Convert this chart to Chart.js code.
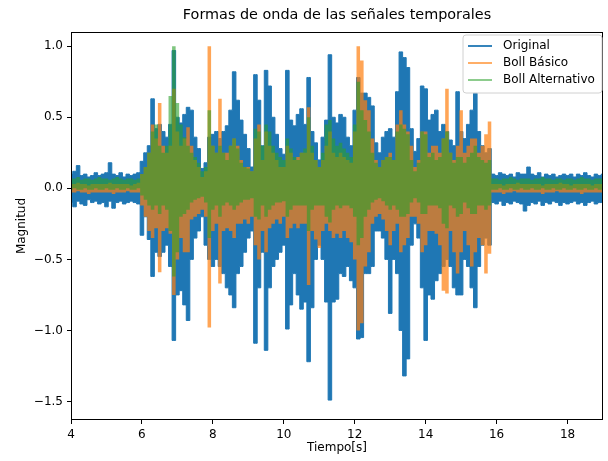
<!DOCTYPE html>
<html>
<head>
<meta charset="utf-8">
<script src="https://cdn.jsdelivr.net/npm/chart.js@4.4.1/dist/chart.umd.min.js"></script>
<style>
  html, body { margin: 0; padding: 0; background: #fff; }
  canvas { display: block; }
</style>
</head>
<body>
<canvas id="grafico" width="608" height="461"></canvas>
<script>
// envolvente: maximo y minimo cada 0.1 s desde t = 4 s
const inicio = 4;
const paso = 0.1;

const marcasX = [4, 6, 8, 10, 12, 14, 16, 18];
const marcasY = [-1.5, -1.0, -0.5, 0.0, 0.5, 1.0];
const nombres = ['Original', 'Boll Básico', 'Boll Alternativo'];

const originalSup = [
  0.10, 0.12, 0.16, 0.09, 0.10, 0.08, 0.09, 0.11, 0.09, 0.10,
  0.11, 0.18, 0.10, 0.09, 0.11, 0.08, 0.10, 0.09, 0.10, 0.11,
  0.19, 0.25, 0.30, 0.63, 0.42, 0.45, 0.40, 0.36, 0.45, 0.97,
  0.50, 0.46, 0.52, 0.57, 0.55, 0.36, 0.28, 0.14, 0.18, 0.36,
  0.38, 0.40, 0.35, 0.40, 0.44, 0.55, 0.82, 0.62, 0.48, 0.38,
  0.28, 0.15, 0.80, 0.62, 0.30, 0.83, 0.72, 0.50, 0.38, 0.28,
  0.24, 0.83, 0.48, 0.44, 0.52, 0.56, 0.45, 0.78, 0.40, 0.32,
  0.20, 0.36, 0.48, 0.94, 0.50, 0.46, 0.52, 0.50, 0.36, 0.30,
  0.55, 0.78, 0.67, 0.67, 0.64, 0.58, 0.32, 0.25, 0.36, 0.40,
  0.42, 0.36, 0.68, 0.96, 0.92, 0.85, 0.42, 0.26, 0.35, 0.72,
  0.70, 0.48, 0.52, 0.55, 0.40, 0.45, 0.40, 0.34, 0.30, 0.68,
  0.40, 0.35, 0.45, 0.55, 0.67, 0.40, 0.30, 0.25, 0.28, 0.10,
  0.09, 0.11, 0.10, 0.09, 0.10, 0.08, 0.11, 0.10, 0.10, 0.15,
  0.10, 0.09, 0.11, 0.08, 0.10, 0.09, 0.10, 0.08, 0.09, 0.10,
  0.09, 0.10, 0.08, 0.10, 0.09, 0.11, 0.09, 0.08, 0.10, 0.09,
  0.10
];
const originalInf = [
  -0.10, -0.13, -0.09, -0.11, -0.12, -0.08, -0.10, -0.09, -0.11, -0.10,
  -0.13, -0.09, -0.14, -0.10, -0.09, -0.11, -0.10, -0.09, -0.10, -0.11,
  -0.33, -0.20, -0.36, -0.62, -0.45, -0.48, -0.45, -0.40, -0.55, -1.07,
  -0.75, -0.72, -0.82, -0.93, -0.50, -0.35, -0.30, -0.20, -0.40, -0.50,
  -0.55, -0.50, -0.55, -0.60, -0.70, -0.75, -0.84, -0.60, -0.55, -0.45,
  -0.35, -0.30, -1.09, -0.70, -0.45, -1.14, -0.70, -0.55, -0.50, -0.45,
  -0.40, -0.99, -0.82, -0.60, -0.75, -0.85, -0.80, -1.22, -0.84, -0.50,
  -0.40, -0.50, -0.80, -1.49, -0.80, -0.78, -0.60, -0.62, -0.55, -0.65,
  -0.70, -1.06, -1.05, -0.60, -0.60, -0.55, -0.30, -0.30, -0.35, -0.50,
  -0.88, -0.50, -0.60, -1.00, -1.32, -1.20, -0.40, -0.25, -0.35, -0.70,
  -1.07, -0.75, -0.78, -0.65, -0.60, -0.55, -0.50, -0.55, -0.70, -0.75,
  -0.75, -0.50, -0.55, -0.70, -0.84, -0.55, -0.40, -0.35, -0.40, -0.10,
  -0.11, -0.09, -0.12, -0.10, -0.11, -0.09, -0.10, -0.11, -0.16, -0.12,
  -0.10, -0.11, -0.09, -0.12, -0.10, -0.11, -0.09, -0.10, -0.12, -0.10,
  -0.11, -0.10, -0.09, -0.11, -0.10, -0.12, -0.10, -0.09, -0.11, -0.10,
  -0.10
];

const basicoSup = [
  0.03, 0.03, 0.04, 0.03, 0.03, 0.02, 0.03, 0.03, 0.03, 0.03,
  0.03, 0.04, 0.03, 0.03, 0.03, 0.03, 0.03, 0.02, 0.03, 0.04,
  0.10, 0.15, 0.25, 0.45, 0.35, 0.60, 0.30, 0.25, 0.30, 0.70,
  0.40, 0.30, 0.35, 0.43, 0.30, 0.20, 0.15, 0.08, 0.12, 1.00,
  0.30, 0.25, 0.63, 0.25, 0.25, 0.30, 0.35, 0.30, 0.20, 0.15,
  0.15, 0.12, 0.35, 0.45, 0.20, 0.40, 0.30, 0.25, 0.20, 0.15,
  0.15, 0.30, 0.25, 0.20, 0.22, 0.25, 0.25, 0.57, 0.25, 0.20,
  0.15, 0.20, 0.30, 0.40, 0.25, 0.22, 0.25, 0.22, 0.20, 0.18,
  0.40, 1.00, 0.90, 0.62, 0.55, 0.35, 0.20, 0.15, 0.20, 0.22,
  0.25, 0.20, 0.45, 0.55, 0.45, 0.40, 0.30, 0.15, 0.20, 0.40,
  0.40, 0.25, 0.30, 0.30, 0.25, 0.35, 0.70, 0.25, 0.20, 0.30,
  0.55, 0.25, 0.30, 0.35, 0.35, 0.25, 0.30, 0.38, 0.47, 0.03,
  0.03, 0.03, 0.02, 0.03, 0.03, 0.03, 0.04, 0.03, 0.03, 0.03,
  0.03, 0.03, 0.03, 0.02, 0.03, 0.03, 0.03, 0.03, 0.04, 0.03,
  0.03, 0.02, 0.03, 0.03, 0.03, 0.03, 0.03, 0.02, 0.03, 0.03,
  0.03
];
const basicoInf = [
  -0.03, -0.03, -0.02, -0.03, -0.03, -0.04, -0.03, -0.03, -0.03, -0.03,
  -0.03, -0.03, -0.04, -0.03, -0.03, -0.03, -0.02, -0.03, -0.03, -0.03,
  -0.12, -0.20, -0.30, -0.35, -0.28, -0.59, -0.30, -0.28, -0.32, -0.75,
  -0.50, -0.35, -0.45, -0.45, -0.22, -0.20, -0.18, -0.15, -0.20, -0.98,
  -0.30, -0.25, -0.67, -0.30, -0.28, -0.30, -0.35, -0.25, -0.25, -0.22,
  -0.25, -0.20, -0.40, -0.50, -0.30, -0.45, -0.28, -0.25, -0.22, -0.25,
  -0.20, -0.35, -0.28, -0.25, -0.28, -0.25, -0.25, -0.68, -0.30, -0.36,
  -0.42, -0.30, -0.25, -0.30, -0.35, -0.32, -0.35, -0.30, -0.35, -0.38,
  -0.50, -1.00, -0.95, -0.55, -0.45, -0.25, -0.20, -0.18, -0.22, -0.30,
  -0.40, -0.30, -0.25, -0.45, -0.40, -0.35, -0.20, -0.20, -0.25, -0.45,
  -0.40, -0.30, -0.30, -0.32, -0.40, -0.72, -0.74, -0.30, -0.45, -0.60,
  -0.45, -0.30, -0.40, -0.55, -0.45, -0.35, -0.40, -0.60, -0.46, -0.03,
  -0.03, -0.03, -0.04, -0.03, -0.03, -0.02, -0.03, -0.03, -0.03, -0.03,
  -0.03, -0.03, -0.03, -0.04, -0.03, -0.03, -0.03, -0.02, -0.03, -0.03,
  -0.03, -0.03, -0.03, -0.03, -0.04, -0.03, -0.03, -0.03, -0.03, -0.03,
  -0.03
];

const alternativoSup = [
  0.07, 0.07, 0.08, 0.06, 0.07, 0.07, 0.06, 0.07, 0.08, 0.07,
  0.07, 0.06, 0.07, 0.08, 0.07, 0.06, 0.07, 0.07, 0.06, 0.07,
  0.10, 0.15, 0.25, 0.40, 0.45, 0.30, 0.25, 0.30, 0.65, 1.00,
  0.60, 0.45, 0.36, 0.30, 0.25, 0.22, 0.18, 0.12, 0.15, 0.55,
  0.30, 0.25, 0.30, 0.25, 0.20, 0.30, 0.35, 0.28, 0.18, 0.15,
  0.14, 0.12, 0.42, 0.40, 0.30, 0.45, 0.40, 0.30, 0.25, 0.22,
  0.20, 0.35, 0.28, 0.22, 0.20, 0.25, 0.28, 0.50, 0.30, 0.20,
  0.15, 0.25, 0.45, 0.48, 0.35, 0.30, 0.32, 0.28, 0.25, 0.22,
  0.45, 0.75, 0.55, 0.48, 0.40, 0.25, 0.18, 0.15, 0.20, 0.22,
  0.22, 0.20, 0.40, 0.45, 0.42, 0.38, 0.20, 0.12, 0.18, 0.40,
  0.38, 0.22, 0.25, 0.20, 0.22, 0.35, 0.40, 0.25, 0.18, 0.22,
  0.22, 0.18, 0.22, 0.25, 0.30, 0.22, 0.20, 0.18, 0.20, 0.07,
  0.07, 0.06, 0.07, 0.07, 0.08, 0.07, 0.06, 0.07, 0.07, 0.07,
  0.06, 0.07, 0.07, 0.08, 0.07, 0.07, 0.06, 0.07, 0.07, 0.06,
  0.07, 0.07, 0.06, 0.07, 0.08, 0.07, 0.07, 0.06, 0.07, 0.07,
  0.07
];
const alternativoInf = [
  -0.01, 0.00, -0.01, -0.01, 0.00, -0.01, -0.01, 0.00, -0.01, -0.01,
  0.00, -0.01, -0.01, 0.00, -0.01, -0.01, 0.00, -0.01, -0.01, 0.00,
  -0.05, -0.08, -0.12, -0.15, -0.12, -0.18, -0.12, -0.15, -0.30, -0.62,
  -0.45, -0.20, -0.18, -0.15, -0.10, -0.08, -0.07, -0.06, -0.10, -0.35,
  -0.15, -0.12, -0.20, -0.12, -0.10, -0.12, -0.15, -0.12, -0.10, -0.08,
  -0.08, -0.07, -0.20, -0.22, -0.12, -0.20, -0.15, -0.12, -0.10, -0.10,
  -0.09, -0.20, -0.15, -0.12, -0.12, -0.12, -0.12, -0.30, -0.15, -0.12,
  -0.12, -0.12, -0.20, -0.24, -0.15, -0.12, -0.14, -0.12, -0.12, -0.14,
  -0.20, -0.40, -0.35, -0.20, -0.15, -0.10, -0.08, -0.07, -0.09, -0.12,
  -0.15, -0.12, -0.15, -0.20, -0.20, -0.18, -0.10, -0.07, -0.10, -0.18,
  -0.18, -0.12, -0.12, -0.12, -0.14, -0.25, -0.28, -0.12, -0.14, -0.20,
  -0.18, -0.10, -0.14, -0.18, -0.18, -0.12, -0.12, -0.15, -0.12, -0.01,
  -0.01, 0.00, -0.01, -0.01, 0.00, -0.01, -0.01, 0.00, -0.01, -0.01,
  0.00, -0.01, -0.01, 0.00, -0.01, -0.01, 0.00, -0.01, -0.01, 0.00,
  -0.01, -0.01, 0.00, -0.01, -0.01, 0.00, -0.01, -0.01, 0.00, -0.01,
  -0.01
];

const colores = ['#1f77b4', 'rgba(255,127,14,0.7)', 'rgba(44,160,44,0.6)'];
const fuente = 'DejaVu Sans';

function puntos(valores) {
  return valores.map((v, i) => ({ x: inicio + i * paso, y: v }));
}

const extras = {
  id: 'extras',
  afterDraw(chart) {
    const { ctx, chartArea: a } = chart;
    ctx.save();

    // marco de los ejes
    ctx.strokeStyle = '#000';
    ctx.lineWidth = 1;
    ctx.strokeRect(Math.round(a.left) + 0.5, Math.round(a.top) + 0.5,
      Math.round(a.right - a.left) - 1, Math.round(a.bottom - a.top) - 1);

    // titulo
    ctx.fillStyle = '#000';
    ctx.font = '14.4px "' + fuente + '"';
    ctx.textAlign = 'center';
    ctx.textBaseline = 'middle';
    ctx.fillText('Formas de onda de las señales temporales', (a.left + a.right) / 2, 15);

    // leyenda
    const bx = 463, by = 35, bw = 139, bh = 58, r = 3;
    ctx.beginPath();
    ctx.moveTo(bx + r, by);
    ctx.arcTo(bx + bw, by, bx + bw, by + bh, r);
    ctx.arcTo(bx + bw, by + bh, bx, by + bh, r);
    ctx.arcTo(bx, by + bh, bx, by, r);
    ctx.arcTo(bx, by, bx + bw, by, r);
    ctx.closePath();
    ctx.fillStyle = 'rgba(255,255,255,0.8)';
    ctx.fill();
    ctx.strokeStyle = '#d0d0d0';
    ctx.stroke();

    ctx.font = '12px "' + fuente + '"';
    ctx.textAlign = 'left';
    nombres.forEach((n, i) => {
      const y = 46 + i * 17;
      ctx.strokeStyle = colores[i];
      ctx.lineWidth = 1.8;
      ctx.beginPath();
      ctx.moveTo(468, y);
      ctx.lineTo(492, y);
      ctx.stroke();
      ctx.fillStyle = '#000';
      ctx.fillText(n, 503, y);
    });
    ctx.restore();
  }
};

const eje = {
  grid: { display: true, drawOnChartArea: false, drawTicks: true, tickLength: 4, tickColor: '#000', tickWidth: 1 },
  border: { display: false },
};

// cada senal: borde superior y borde inferior, relleno entre ambos
function banda(i, sup, inf, orden, grosor) {
  return [
    { label: nombres[i], data: puntos(sup), borderColor: colores[i], borderWidth: grosor,
      fill: false, order: orden + 1 },
    { label: nombres[i], data: puntos(inf), borderColor: colores[i], borderWidth: grosor,
      backgroundColor: colores[i], fill: '-1', order: orden }
  ];
}

new Chart(document.getElementById('grafico'), {
  type: 'line',
  data: {
    datasets: [
      ...banda(0, originalSup, originalInf, 5, 1),
      ...banda(1, basicoSup, basicoInf, 3, 0),
      ...banda(2, alternativoSup, alternativoInf, 1, 0)
    ]
  },
  options: {
    responsive: false,
    animation: false,
    devicePixelRatio: 1,
    layout: { padding: { top: 32, right: 5, left: 0, bottom: 0 } },
    elements: {
      point: { radius: 0 },
      line: { tension: 0, stepped: 'middle', borderJoinStyle: 'miter', borderCapStyle: 'butt' }
    },
    plugins: { legend: { display: false }, tooltip: { enabled: false } },
    scales: {
      x: {
        ...eje,
        type: 'linear', min: 4, max: 19,
        afterBuildTicks: s => { s.ticks = marcasX.map(v => ({ value: v })); },
        afterFit: s => { s.height = 41; },
        ticks: { color: '#000', font: { family: fuente, size: 12 }, padding: 4, maxRotation: 0, autoSkip: false,
          callback: v => String(v) },
        title: { display: true, text: 'Tiempo[s]', color: '#000', font: { family: fuente, size: 12 },
          padding: { top: 0, bottom: 6 } }
      },
      y: {
        ...eje,
        min: -1.63, max: 1.1,
        afterBuildTicks: s => { s.ticks = marcasY.map(v => ({ value: v })); },
        afterFit: s => { s.width = 71; },
        ticks: { color: '#000', font: { family: fuente, size: 12 }, padding: 4, autoSkip: false,
          callback: v => v.toFixed(1).replace('-', '\u2212') },
        title: { display: true, text: 'Magnitud', color: '#000', font: { family: fuente, size: 12 },
          padding: { top: 15, bottom: 0 } }
      }
    }
  },
  plugins: [extras]
});
</script>
</body>
</html>
